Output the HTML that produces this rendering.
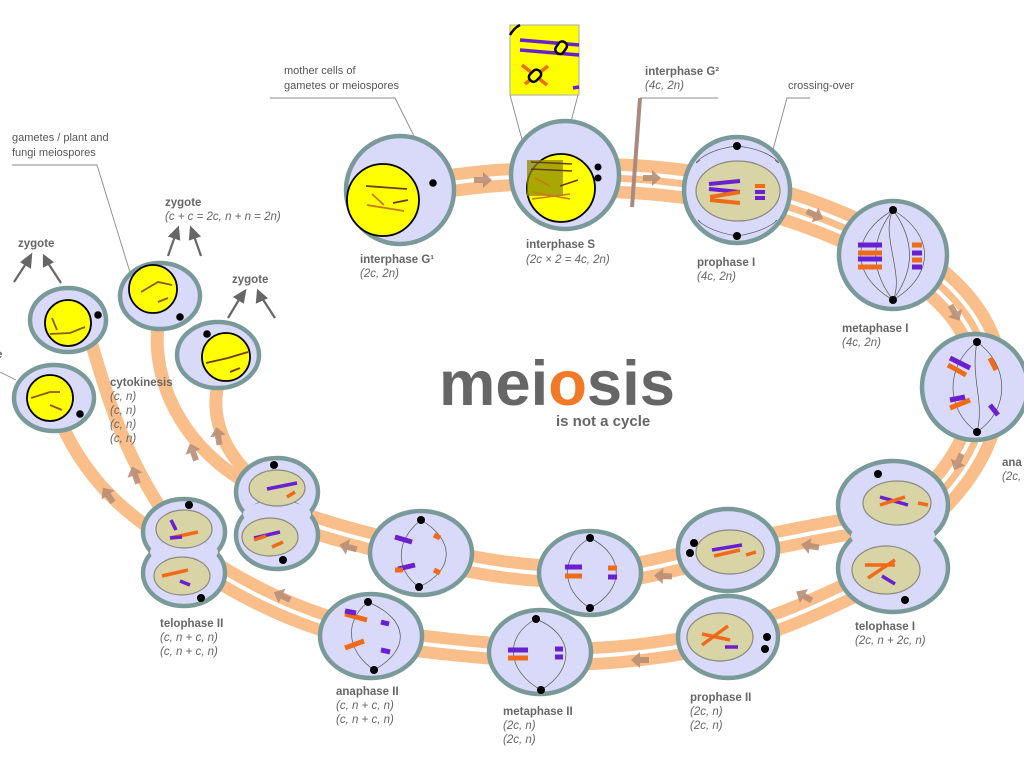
<!DOCTYPE html>
<html><head><meta charset="utf-8"><style>
html,body{margin:0;padding:0;background:#fff;}
svg{display:block;font-family:"Liberation Sans","DejaVu Sans",sans-serif;}
.b{font-weight:bold;font-size:11.5px;fill:#666;}
.i{font-style:italic;font-size:11.5px;fill:#666;}
.n{font-size:11px;fill:#555;}
.cell{fill:#d9d9f9;stroke:#7a9a9a;stroke-width:4.5;}
.nuc{fill:#ffff00;stroke:#000;stroke-width:1.8;}
.kh{fill:#d8d4a6;stroke:#8a8a80;stroke-width:1.2;}
.ar{fill:#b88e76;opacity:.9;}
.sp{fill:none;stroke:#555;stroke-width:.7;}
</style></head><body>
<svg width="1024" height="768" viewBox="0 0 1024 768">
<g fill="none" stroke-linecap="butt">
 <path d="M400 192 C470 178 510 176 565 176" stroke="#f9be8a" stroke-width="28"/>
 <path d="M400 192 C470 178 510 176 565 176" stroke="#fff" stroke-width="4"/>
 <path d="M565 178 C680 175 780 195 870 240 C960 285 1000 340 985 410 C975 460 940 500 893 535" stroke="#f9be8a" stroke-width="40"/>
 <path d="M565 178 C680 175 780 195 870 240 C960 285 1000 340 985 410 C975 460 940 500 893 535" stroke="#fff" stroke-width="15"/>
 <path d="M565 178 C680 175 780 195 870 240 C960 285 1000 340 985 410 C975 460 940 500 893 535" stroke="#f9be8a" stroke-width="7"/>
 <path d="M893 520 C820 530 780 540 728 550 C680 560 640 575 590 575 C520 575 470 565 421 553 C360 540 310 525 277 512" stroke="#f9be8a" stroke-width="28"/>
 <path d="M893 520 C820 530 780 540 728 550 C680 560 640 575 590 575 C520 575 470 565 421 553 C360 540 310 525 277 512" stroke="#fff" stroke-width="4"/>
 <path d="M893 570 C830 600 780 625 728 637 C670 650 600 660 540 655 C480 650 420 645 371 636 C300 620 240 590 190 555" stroke="#f9be8a" stroke-width="28"/>
 <path d="M893 570 C830 600 780 625 728 637 C670 650 600 660 540 655 C480 650 420 645 371 636 C300 620 240 590 190 555" stroke="#fff" stroke-width="4"/>
 <g stroke="#f9be8a" stroke-width="13">
 <path d="M250 475 C218 445 212 410 218 385"/>
 <path d="M250 485 C180 445 152 380 158 325"/>
 <path d="M165 515 C125 455 108 400 92 345"/>
 <path d="M160 535 C105 500 78 460 62 425"/>
 </g>
</g>
<g class="ar">
 <path d="M-9,-3 L0,-3 L0,-8 L9,0 L0,8 L0,3 L-9,3Z" transform="translate(483,180)"/>
 <path d="M-9,-3 L0,-3 L0,-8 L9,0 L0,8 L0,3 L-9,3Z" transform="translate(652,178)"/>
 <path d="M-9,-3 L0,-3 L0,-8 L9,0 L0,8 L0,3 L-9,3Z" transform="translate(815,215) rotate(25)"/>
 <path d="M-9,-3 L0,-3 L0,-8 L9,0 L0,8 L0,3 L-9,3Z" transform="translate(955,313) rotate(60)"/>
 <path d="M-9,-3 L0,-3 L0,-8 L9,0 L0,8 L0,3 L-9,3Z" transform="translate(958,462) rotate(115)"/>
 <path d="M-9,-3 L0,-3 L0,-8 L9,0 L0,8 L0,3 L-9,3Z" transform="translate(810,546) rotate(190)"/>
 <path d="M-9,-3 L0,-3 L0,-8 L9,0 L0,8 L0,3 L-9,3Z" transform="translate(804,596) rotate(210)"/>
 <path d="M-9,-3 L0,-3 L0,-8 L9,0 L0,8 L0,3 L-9,3Z" transform="translate(663,576) rotate(183)"/>
 <path d="M-9,-3 L0,-3 L0,-8 L9,0 L0,8 L0,3 L-9,3Z" transform="translate(640,660) rotate(180)"/>
 <path d="M-9,-3 L0,-3 L0,-8 L9,0 L0,8 L0,3 L-9,3Z" transform="translate(348,547) rotate(195)"/>
 <path d="M-9,-3 L0,-3 L0,-8 L9,0 L0,8 L0,3 L-9,3Z" transform="translate(282,596) rotate(205)"/>
 <path d="M-9,-3 L0,-3 L0,-8 L9,0 L0,8 L0,3 L-9,3Z" transform="translate(218,436) rotate(-100)"/>
 <path d="M-9,-3 L0,-3 L0,-8 L9,0 L0,8 L0,3 L-9,3Z" transform="translate(193,452) rotate(-110)"/>
 <path d="M-9,-3 L0,-3 L0,-8 L9,0 L0,8 L0,3 L-9,3Z" transform="translate(135,475) rotate(-110)"/>
 <path d="M-9,-3 L0,-3 L0,-8 L9,0 L0,8 L0,3 L-9,3Z" transform="translate(108,495) rotate(-125)"/>
</g>
<line x1="640" y1="98" x2="632" y2="207" stroke="#a88a7e" stroke-width="4"/>
<g fill="none" stroke="#888" stroke-width="0.9">
 <polyline points="270,98 395,98 417,142"/>
 <polyline points="12,165 97,165 133,282"/>
 <line x1="0" y1="372" x2="16" y2="380"/>
 <line x1="640" y1="98" x2="718" y2="98"/>
 <polyline points="810,98 787,98 762,190"/>
 <line x1="510" y1="95" x2="527" y2="158"/>
 <line x1="578" y1="95" x2="563" y2="152"/>
</g>
<rect x="510" y="25" width="69" height="70" fill="#ffff00" stroke="#aaa" stroke-width="1"/>
<path d="M510 35 Q514 28 520 25" stroke="#000" stroke-width="2.5" fill="none"/>
<g stroke-width="3.5"><line x1="520" y1="40" x2="579" y2="45" stroke="#6a1fd0"/><line x1="520" y1="50" x2="579" y2="55" stroke="#6a1fd0"/>
<line x1="522" y1="65" x2="547" y2="85" stroke="#f06a1a"/><line x1="548" y1="66" x2="525" y2="84" stroke="#f06a1a"/><line x1="573" y1="88" x2="579" y2="87" stroke="#6a1fd0"/></g>
<rect x="557" y="41" width="9" height="13" rx="4" fill="#ffff00" stroke="#000" stroke-width="2.5" transform="rotate(35 561 47)"/>
<rect x="531" y="69" width="9" height="13" rx="4" fill="#ffff00" stroke="#000" stroke-width="2.5" transform="rotate(45 535 75)"/>

<circle class="cell" cx="400" cy="190" r="54"/>
<circle class="nuc" cx="383" cy="200" r="36"/>
<circle cx="433" cy="183" r="3.8"/>
<g stroke-width="1.8"><line x1="366" y1="186" x2="407" y2="189" stroke="#6b3b1a"/><line x1="372" y1="194" x2="384" y2="205" stroke="#c77a1a"/><line x1="393" y1="203" x2="408" y2="200" stroke="#6b3b1a"/><line x1="367" y1="205" x2="404" y2="211" stroke="#c77a1a"/></g>
<circle class="cell" cx="565" cy="175" r="54"/>
<circle class="nuc" cx="561" cy="188" r="34"/>
<rect x="527" y="160" width="36" height="36" fill="#8b8b00" opacity=".75"/>
<circle cx="598" cy="167" r="3.5"/><circle cx="598" cy="178" r="3.5"/>
<g stroke-width="1.6"><line x1="531" y1="162" x2="572" y2="164" stroke="#6b3b1a"/><line x1="531" y1="169" x2="572" y2="171" stroke="#6b3b1a"/><line x1="535" y1="178" x2="550" y2="186" stroke="#c77a1a"/><line x1="560" y1="186" x2="578" y2="180" stroke="#6b3b1a"/><line x1="532" y1="192" x2="570" y2="199" stroke="#c77a1a"/><line x1="532" y1="199" x2="570" y2="194" stroke="#c77a1a"/></g>
<circle class="cell" cx="737" cy="190" r="53"/>
<path class="sp" d="M737 146 C700 150 690 170 700 160 M737 146 C775 150 785 170 775 160 M737 236 C700 230 695 215 700 222 M737 236 C775 230 780 215 775 222"/>
<ellipse class="kh" cx="738" cy="191" rx="42" ry="30"/>
<circle cx="737" cy="146" r="4"/><circle cx="737" cy="236" r="4"/>
<g stroke-width="4"><line x1="709" y1="184" x2="740" y2="181" stroke="#6a1fd0"/><line x1="709" y1="189" x2="740" y2="192" stroke="#6a1fd0"/><line x1="710" y1="197" x2="740" y2="192" stroke="#f06a1a"/><line x1="710" y1="200" x2="740" y2="203" stroke="#f06a1a"/>
<line x1="755" y1="186" x2="765" y2="186" stroke="#f06a1a"/><line x1="755" y1="192" x2="765" y2="192" stroke="#6a1fd0"/><line x1="755" y1="198" x2="765" y2="198" stroke="#6a1fd0"/></g>
<circle class="cell" cx="893" cy="255" r="54"/>
<path class="sp" d="M893 210 C850 235 850 275 893 300 M893 210 C935 235 935 275 893 300 M893 210 C880 235 905 275 893 300 M893 210 C870 240 870 270 893 300 M893 210 C915 240 915 270 893 300"/>
<circle cx="893" cy="210" r="4"/><circle cx="893" cy="300" r="4"/>
<g stroke-width="5"><line x1="858" y1="245" x2="882" y2="245" stroke="#6a1fd0"/><line x1="858" y1="253" x2="882" y2="253" stroke="#f06a1a"/><line x1="858" y1="259" x2="882" y2="259" stroke="#6a1fd0"/><line x1="858" y1="267" x2="882" y2="267" stroke="#f06a1a"/>
<line x1="912" y1="245" x2="922" y2="245" stroke="#f06a1a"/><line x1="912" y1="253" x2="922" y2="253" stroke="#6a1fd0"/><line x1="912" y1="260" x2="922" y2="260" stroke="#f06a1a"/><line x1="912" y1="267" x2="922" y2="267" stroke="#6a1fd0"/></g>
<circle class="cell" cx="975" cy="387" r="53"/>
<path class="sp" d="M977 342 C945 365 945 410 977 432 M977 342 C1010 365 1010 410 977 432 M977 342 C970 380 985 400 977 432"/>
<circle cx="977" cy="342" r="4"/><circle cx="977" cy="432" r="4"/>
<g stroke-width="5"><line x1="950" y1="358" x2="970" y2="368" stroke="#6a1fd0"/><line x1="948" y1="365" x2="966" y2="375" stroke="#f06a1a"/><line x1="990" y1="358" x2="996" y2="370" stroke="#f06a1a"/><line x1="950" y1="408" x2="970" y2="400" stroke="#f06a1a"/><line x1="950" y1="400" x2="965" y2="397" stroke="#6a1fd0"/><line x1="990" y1="405" x2="998" y2="415" stroke="#6a1fd0"/></g>
<ellipse class="cell" cx="893" cy="505" rx="55" ry="44"/>
<ellipse class="cell" cx="893" cy="568" rx="55" ry="44"/>
<ellipse cx="893" cy="536" rx="42" ry="16" fill="#d9d9f9"/>
<ellipse class="kh" cx="897" cy="503" rx="34" ry="22"/>
<ellipse class="kh" cx="886" cy="570" rx="34" ry="24"/>
<circle cx="878" cy="474" r="4"/><circle cx="905" cy="600" r="4"/>
<g stroke-width="3.5"><line x1="880" y1="497" x2="908" y2="505" stroke="#6a1fd0"/><line x1="880" y1="505" x2="905" y2="497" stroke="#f06a1a"/><line x1="918" y1="503" x2="928" y2="505" stroke="#f06a1a"/>
<line x1="865" y1="565" x2="895" y2="565" stroke="#f06a1a"/><line x1="868" y1="578" x2="895" y2="560" stroke="#f06a1a"/><line x1="882" y1="576" x2="895" y2="584" stroke="#6a1fd0"/></g>
<ellipse class="cell" cx="728" cy="550" rx="50" ry="41"/>
<ellipse class="kh" cx="730" cy="552" rx="34" ry="22"/>
<circle cx="694" cy="543" r="4"/><circle cx="690" cy="553" r="4"/>
<g stroke-width="3.5"><line x1="712" y1="550" x2="742" y2="545" stroke="#6a1fd0"/><line x1="714" y1="556" x2="740" y2="550" stroke="#f06a1a"/><line x1="746" y1="555" x2="756" y2="552" stroke="#f06a1a"/></g>
<ellipse class="cell" cx="728" cy="637" rx="50" ry="41"/>
<ellipse class="kh" cx="720" cy="637" rx="33" ry="24"/>
<circle cx="767" cy="637" r="4"/><circle cx="765" cy="649" r="4"/>
<g stroke-width="3.5"><line x1="702" y1="645" x2="728" y2="626" stroke="#f06a1a"/><line x1="702" y1="634" x2="730" y2="640" stroke="#f06a1a"/><line x1="725" y1="647" x2="738" y2="647" stroke="#6a1fd0"/></g>
<ellipse class="cell" cx="590" cy="573" rx="51" ry="42"/>
<path class="sp" d="M590 538 C560 555 560 590 590 608 M590 538 C625 555 625 590 590 608"/>
<circle cx="590" cy="538" r="4"/><circle cx="590" cy="608" r="4"/>
<g stroke-width="5"><line x1="565" y1="567" x2="582" y2="567" stroke="#6a1fd0"/><line x1="565" y1="576" x2="582" y2="576" stroke="#f06a1a"/><line x1="608" y1="568" x2="617" y2="568" stroke="#f06a1a"/><line x1="608" y1="577" x2="617" y2="577" stroke="#6a1fd0"/></g>
<ellipse class="cell" cx="540" cy="652" rx="51" ry="42"/>
<path class="sp" d="M536 619 C505 635 505 670 541 690 M536 619 C575 635 575 670 541 690"/>
<circle cx="536" cy="619" r="4"/><circle cx="541" cy="690" r="4"/>
<g stroke-width="5"><line x1="508" y1="650" x2="528" y2="650" stroke="#6a1fd0"/><line x1="508" y1="658" x2="528" y2="658" stroke="#f06a1a"/><line x1="555" y1="649" x2="563" y2="649" stroke="#6a1fd0"/><line x1="555" y1="657" x2="563" y2="657" stroke="#6a1fd0"/></g>
<ellipse class="cell" cx="421" cy="553" rx="51" ry="42"/>
<path class="sp" d="M421 520 C395 540 395 570 419 587 M421 520 C455 540 455 570 419 587"/>
<circle cx="421" cy="520" r="4"/><circle cx="419" cy="587" r="4"/>
<g stroke-width="5"><line x1="395" y1="537" x2="412" y2="542" stroke="#6a1fd0"/><line x1="398" y1="569" x2="415" y2="565" stroke="#6a1fd0"/><line x1="395" y1="570" x2="403" y2="570" stroke="#f06a1a"/><line x1="434" y1="535" x2="440" y2="538" stroke="#f06a1a"/><line x1="434" y1="570" x2="440" y2="573" stroke="#f06a1a"/></g>
<ellipse class="cell" cx="371" cy="636" rx="51" ry="42"/>
<path class="sp" d="M368 602 C345 620 345 650 374 670 M368 602 C410 620 410 650 374 670"/>
<circle cx="368" cy="602" r="4"/><circle cx="374" cy="670" r="4"/>
<g stroke-width="5"><line x1="345" y1="614" x2="367" y2="620" stroke="#f06a1a"/><line x1="345" y1="611" x2="356" y2="613" stroke="#6a1fd0"/><line x1="345" y1="648" x2="364" y2="641" stroke="#f06a1a"/><line x1="381" y1="622" x2="389" y2="624" stroke="#6a1fd0"/><line x1="381" y1="650" x2="390" y2="652" stroke="#6a1fd0"/></g>
<ellipse class="cell" cx="277" cy="492" rx="41" ry="34"/>
<ellipse class="cell" cx="277" cy="535" rx="41" ry="34"/>
<ellipse cx="277" cy="514" rx="34" ry="13" fill="#d9d9f9"/>
<ellipse class="kh" cx="277" cy="488" rx="28" ry="18"/>
<ellipse class="kh" cx="270" cy="537" rx="28" ry="19"/>
<circle cx="274" cy="465" r="4"/><circle cx="283" cy="560" r="4"/>
<g stroke-width="3.5"><line x1="267" y1="489" x2="297" y2="483" stroke="#6a1fd0"/><line x1="287" y1="497" x2="295" y2="492" stroke="#f06a1a"/><line x1="254" y1="538" x2="280" y2="532" stroke="#6a1fd0"/><line x1="254" y1="540" x2="266" y2="536" stroke="#f06a1a"/><line x1="272" y1="547" x2="283" y2="542" stroke="#f06a1a"/></g>
<ellipse class="cell" cx="184" cy="532" rx="41" ry="33"/>
<ellipse class="cell" cx="184" cy="573" rx="41" ry="33"/>
<ellipse cx="184" cy="552" rx="34" ry="12" fill="#d9d9f9"/>
<ellipse class="kh" cx="184" cy="529" rx="28" ry="19"/>
<ellipse class="kh" cx="182" cy="576" rx="28" ry="19"/>
<circle cx="189" cy="505" r="4"/><circle cx="201" cy="598" r="4"/>
<g stroke-width="3.5"><line x1="171" y1="520" x2="176" y2="530" stroke="#6a1fd0"/><line x1="170" y1="538" x2="198" y2="532" stroke="#f06a1a"/><line x1="170" y1="538" x2="182" y2="537" stroke="#6a1fd0"/><line x1="162" y1="576" x2="188" y2="570" stroke="#f06a1a"/><line x1="180" y1="581" x2="190" y2="585" stroke="#6a1fd0"/></g>
<ellipse class="cell" cx="160" cy="296" rx="40" ry="33"/>
<circle class="nuc" cx="153" cy="289" r="24"/>
<circle cx="180" cy="317" r="3.8"/>
<path d="M141 292 L158 282 L172 285 M158 302 L168 298" stroke="#8b5a1a" stroke-width="1.8" fill="none"/>
<ellipse class="cell" cx="218" cy="355" rx="41" ry="33"/>
<circle class="nuc" cx="226" cy="357" r="24"/>
<circle cx="207" cy="334" r="3.8"/>
<path d="M206 363 L228 358 L248 352 M230 372 L240 368" stroke="#6b3b1a" stroke-width="1.8" fill="none"/>
<ellipse class="cell" cx="68" cy="320" rx="38" ry="32"/>
<circle class="nuc" cx="68" cy="323" r="23"/>
<circle cx="98" cy="315" r="3.8"/>
<path d="M52 318 L57 330 M50 334 L70 333 L85 327" stroke="#8b5a1a" stroke-width="1.8" fill="none"/>
<ellipse class="cell" cx="54" cy="398" rx="40" ry="33"/>
<circle class="nuc" cx="50" cy="398" r="23"/>
<circle cx="80" cy="414" r="3.8"/>
<path d="M31 398 L50 392 L60 392 M50 405 L62 410" stroke="#8b5a1a" stroke-width="1.8" fill="none"/>
<g stroke="#666" stroke-width="2.2" fill="#666">
 <line x1="14" y1="282" x2="27" y2="262"/><polygon points="31,255 22,262 30,267"/>
 <line x1="61" y1="283" x2="48" y2="263"/><polygon points="44,256 44,266 52,262"/>
 <line x1="168" y1="256" x2="175" y2="236"/><polygon points="178,228 170,236 179,239"/>
 <line x1="201" y1="256" x2="194" y2="236"/><polygon points="191,228 190,239 199,236"/>
 <line x1="228" y1="318" x2="240" y2="298"/><polygon points="245,291 235,297 243,302"/>
 <line x1="275" y1="318" x2="262" y2="298"/><polygon points="258,291 257,302 266,298"/>
</g>
<text x="439" y="405" font-size="63" font-weight="bold" fill="#666" textLength="236" lengthAdjust="spacingAndGlyphs">mei<tspan fill="#f07a28">o</tspan>sis</text>
<text x="556" y="426" font-size="15" font-weight="bold" fill="#666">is not a cycle</text>
<text class="n" x="284" y="74">mother cells of</text>
<text class="n" x="284" y="89">gametes or meiospores</text>
<text class="n" x="12" y="141">gametes / plant and</text>
<text class="n" x="12" y="156">fungi meiospores</text>
<text class="b" x="18" y="247">zygote</text>
<text class="b" x="165" y="206">zygote</text>
<text class="i" x="165" y="220">(c + c = 2c, n + n = 2n)</text>
<text class="b" x="232" y="283">zygote</text>
<text class="b" x="-4" y="358">e</text>
<text class="b" x="110" y="386">cytokinesis</text>
<text class="i" x="110" y="400">(c, n)</text>
<text class="i" x="110" y="414">(c, n)</text>
<text class="i" x="110" y="428">(c, n)</text>
<text class="i" x="110" y="442">(c, n)</text>
<text class="b" x="360" y="263">interphase G¹</text>
<text class="i" x="360" y="277">(2c, 2n)</text>
<text class="b" x="526" y="248">interphase S</text>
<text class="i" x="526" y="263">(2c × 2 = 4c, 2n)</text>
<text class="b" x="645" y="75">interphase G²</text>
<text class="i" x="645" y="89">(4c, 2n)</text>
<text class="n" x="788" y="89">crossing-over</text>
<text class="b" x="697" y="266">prophase I</text>
<text class="i" x="697" y="280">(4c, 2n)</text>
<text class="b" x="842" y="332">metaphase I</text>
<text class="i" x="842" y="346">(4c, 2n)</text>
<text class="b" x="1002" y="466">ana</text>
<text class="i" x="1002" y="480">(2c,</text>
<text class="b" x="855" y="630">telophase I</text>
<text class="i" x="855" y="644">(2c, n + 2c, n)</text>
<text class="b" x="690" y="701">prophase II</text>
<text class="i" x="690" y="715">(2c, n)</text>
<text class="i" x="690" y="729">(2c, n)</text>
<text class="b" x="503" y="715">metaphase II</text>
<text class="i" x="503" y="729">(2c, n)</text>
<text class="i" x="503" y="743">(2c, n)</text>
<text class="b" x="336" y="695">anaphase II</text>
<text class="i" x="336" y="709">(c, n + c, n)</text>
<text class="i" x="336" y="723">(c, n + c, n)</text>
<text class="b" x="160" y="627">telophase II</text>
<text class="i" x="160" y="641">(c, n + c, n)</text>
<text class="i" x="160" y="655">(c, n + c, n)</text>
</svg>
</body></html>
